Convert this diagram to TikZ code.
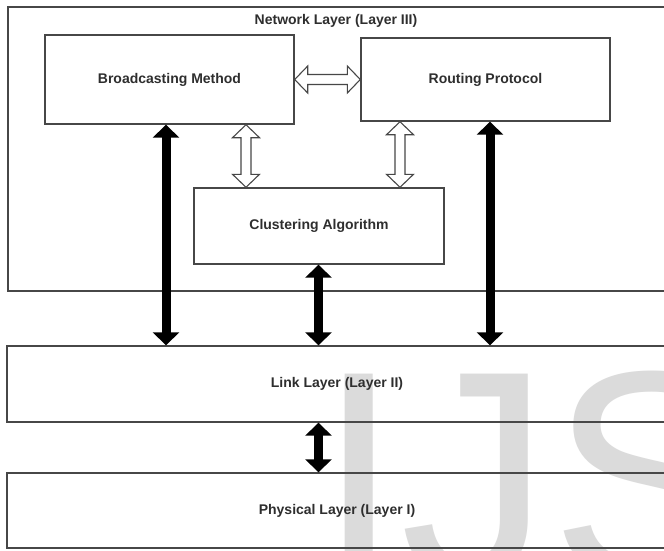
\documentclass[tikz,border=0pt]{standalone}
\usepackage{fontspec}
\setmainfont{Liberation Sans}
\newfontfamily\wmfont{Liberation Sans}
\usetikzlibrary{arrows.meta,calc}

\colorlet{linec}{black!72}
\colorlet{textc}{black!82}

\tikzset{
  labelfont/.style={font=\fontsize{14}{16}\selectfont\bfseries, text=textc},
  layerbox/.style={draw=linec, line width=1.4pt, fill=none, inner sep=0pt, labelfont},
  % thick solid double-headed connector
  solidarrow/.style={line width=9pt, black,
    {Triangle[length=13pt,width=26pt]}-{Triangle[length=13pt,width=26pt]}},
  % open (outlined) double-headed connector drawn as a polygon
  hollowarrow/.style={draw=linec, line width=1.1pt, fill=white, line join=miter,
    to path={
      -- ($(\tikztostart)!13pt!(\tikztotarget)!13.5pt!90:(\tikztotarget)$)
      -- ($(\tikztostart)!13pt!(\tikztotarget)!5pt!90:(\tikztotarget)$)
      -- ($(\tikztotarget)!13pt!(\tikztostart)!5pt!-90:(\tikztostart)$)
      -- ($(\tikztotarget)!13pt!(\tikztostart)!13.5pt!-90:(\tikztostart)$)
      -- (\tikztotarget)
      -- ($(\tikztotarget)!13pt!(\tikztostart)!13.5pt!90:(\tikztostart)$)
      -- ($(\tikztotarget)!13pt!(\tikztostart)!5pt!90:(\tikztostart)$)
      -- ($(\tikztostart)!13pt!(\tikztotarget)!5pt!-90:(\tikztotarget)$)
      -- ($(\tikztostart)!13pt!(\tikztotarget)!13.5pt!-90:(\tikztotarget)$)
      -- cycle}}
}

\begin{document}
\begin{tikzpicture}[x=1pt, y=-1pt]
  \useasboundingbox (0,0) rectangle (664,550);
  \clip (0,0) rectangle (664,550);
  \fill[white] (0,0) rectangle (664,550);

  % publisher watermark behind the diagram
  \node[anchor=base west, inner sep=0pt, text=black!14,
        font=\wmfont\fontsize{300}{300}\selectfont] (wm) at (317,580) {IJS};

  % layers
  \node[layerbox, minimum width=659pt, minimum height=284pt] (net) at (337.5,149) {};
  \node[inner sep=0pt, labelfont] (nettitle) at (336,21) {Network Layer (Layer III)};
  \node[layerbox, minimum width=660pt, minimum height=76pt] (link) at (337,384)
        {Link Layer (Layer II)};
  \node[layerbox, minimum width=660pt, minimum height=75pt] (phys) at (337,510.5)
        {Physical Layer (Layer I)};

  % network layer components
  \node[layerbox, fill=white, minimum width=249pt, minimum height=89pt] (bm) at (169.5,79.5)
        {Broadcasting Method};
  \node[layerbox, fill=white, minimum width=249pt, minimum height=83pt] (rp) at (485.5,79.5)
        {Routing Protocol};
  \node[layerbox, fill=white, minimum width=250pt, minimum height=76pt] (ca) at (319,226)
        {Clustering Algorithm};

  % exchanges inside the network layer
  \draw[hollowarrow] (bm.east) to (rp.west);
  \draw[hollowarrow] (bm.south -| 246,0) to (ca.north -| 246,0);
  \draw[hollowarrow] (rp.south -| 400,0) to (ca.north -| 400,0);

  % exchanges with the lower layers
  \draw[solidarrow] (bm.south -| 166,0) -- (link.north -| 166,0);
  \draw[solidarrow] (ca.south -| 318.5,0) -- (link.north -| 318.5,0);
  \draw[solidarrow] (rp.south -| 490,0) -- (link.north -| 490,0);
  \draw[solidarrow] (link.south -| 318.5,0) -- (phys.north -| 318.5,0);
\end{tikzpicture}
\end{document}
